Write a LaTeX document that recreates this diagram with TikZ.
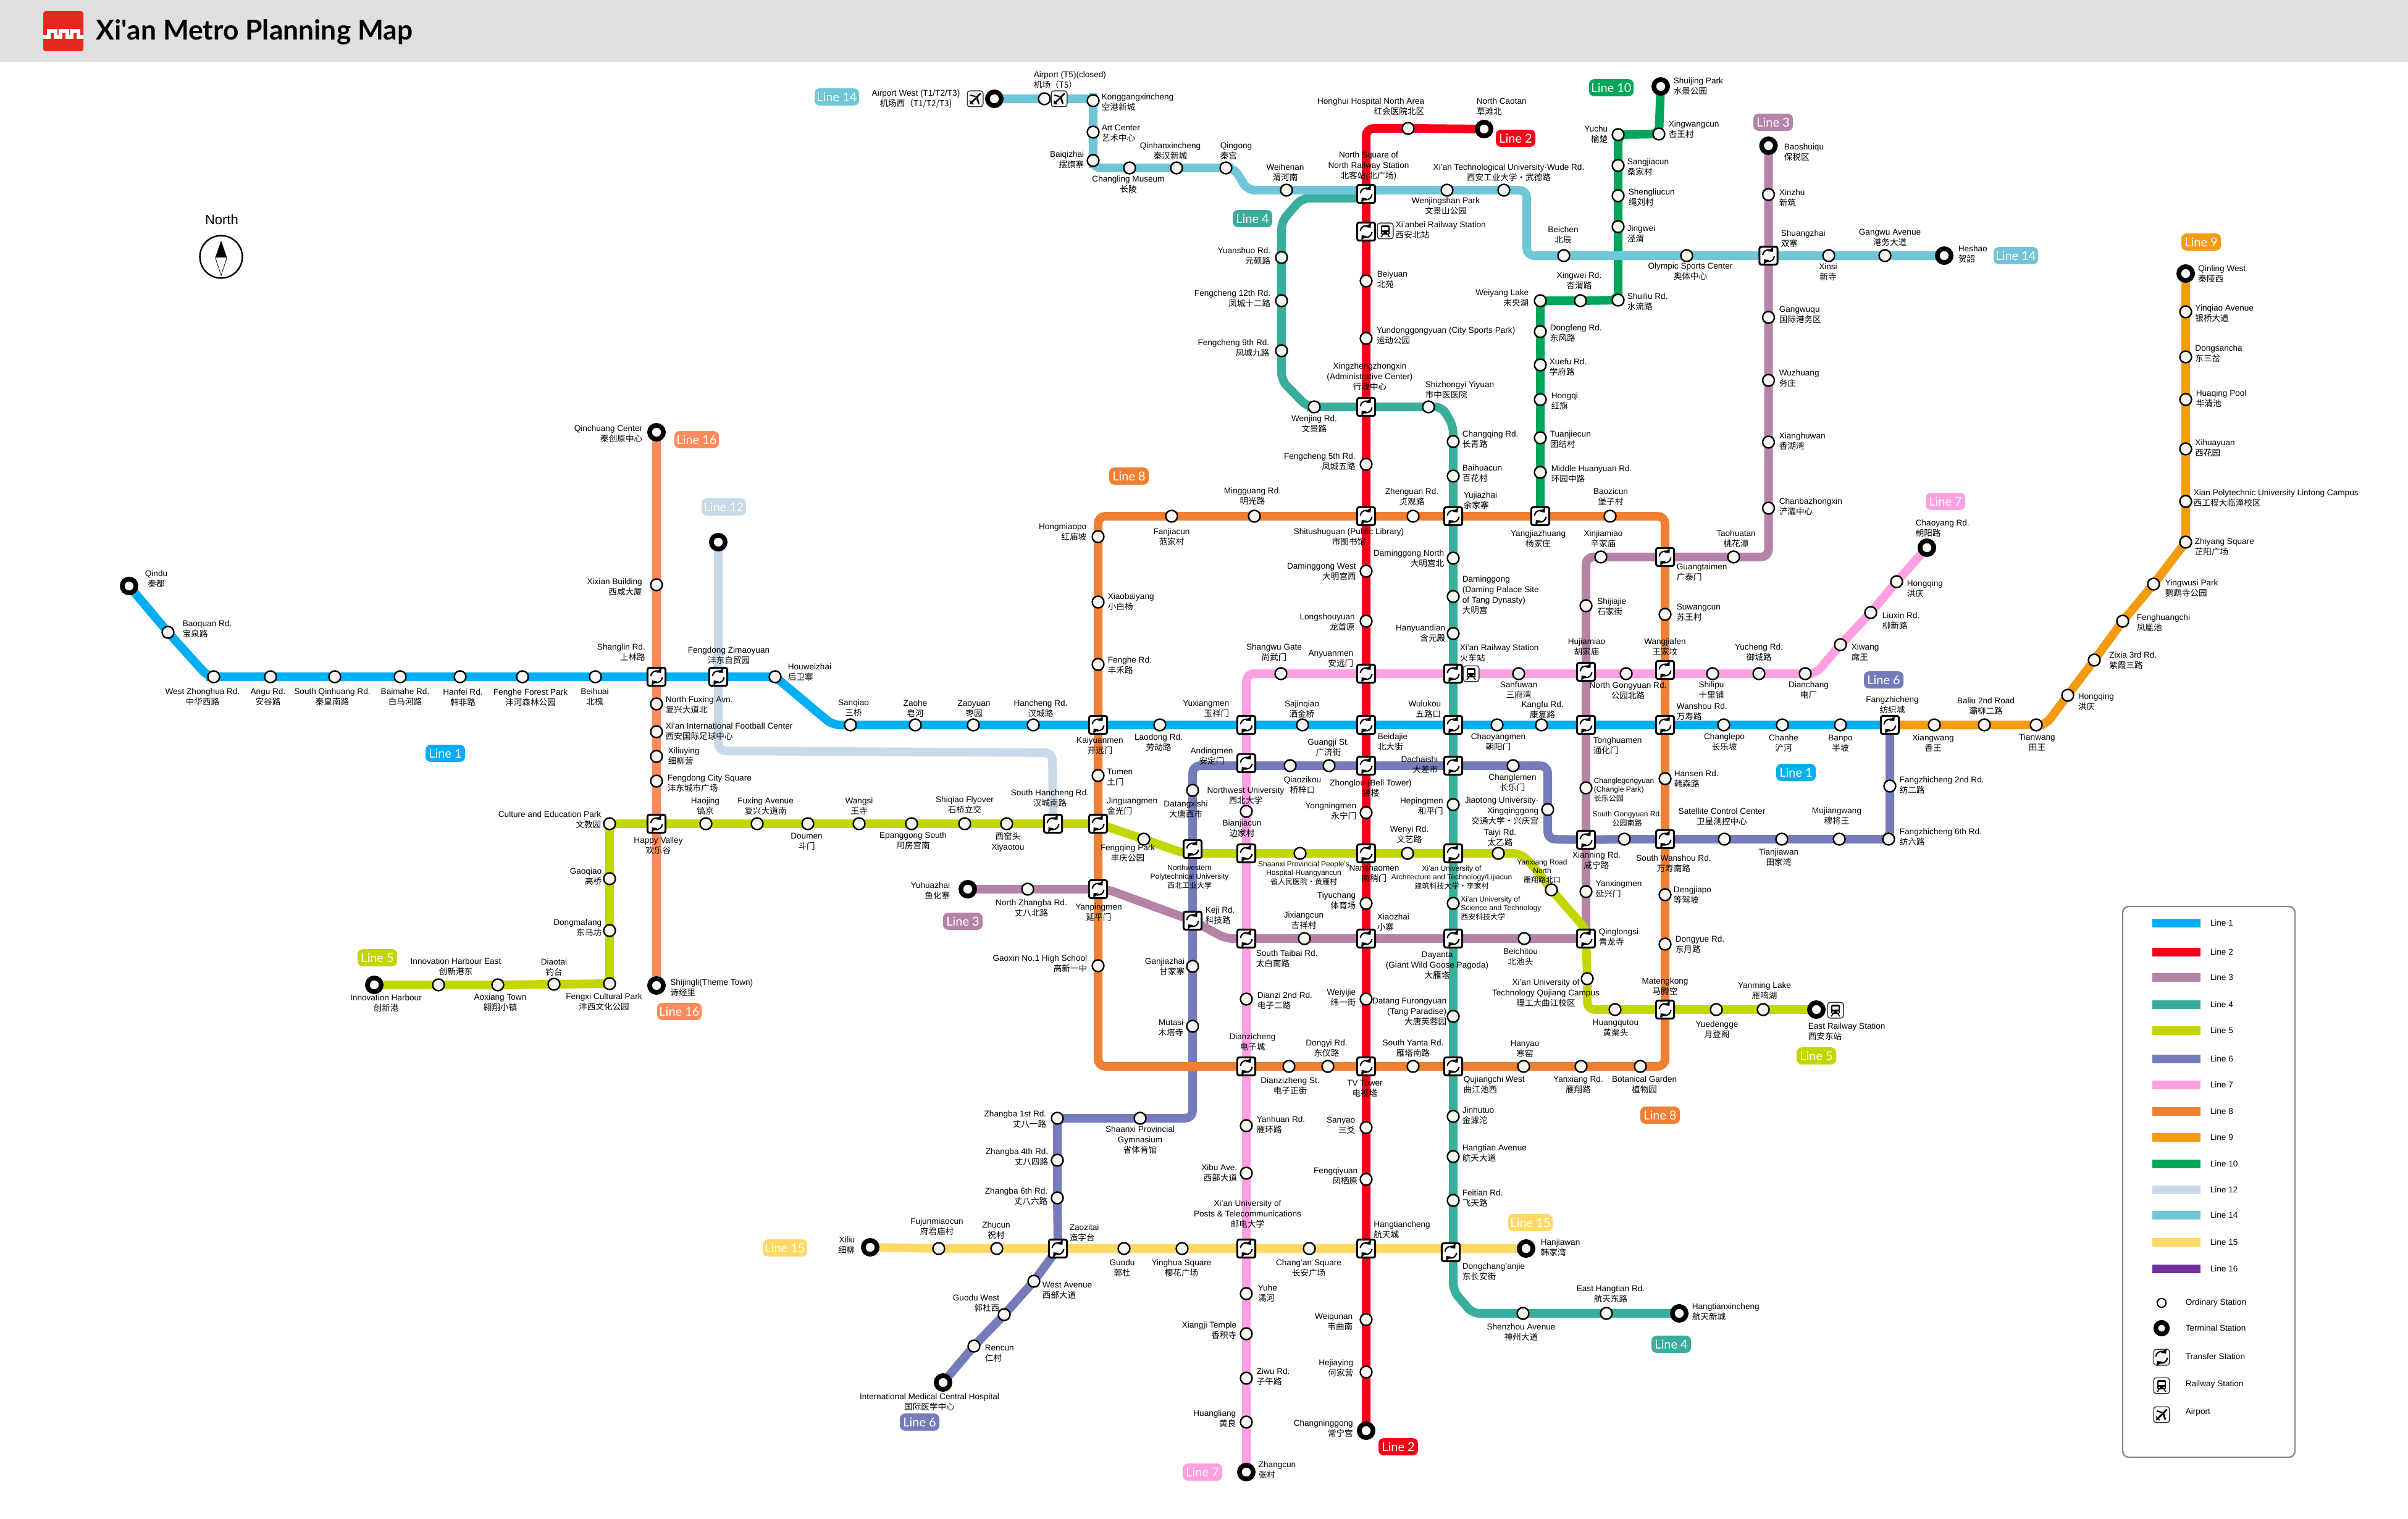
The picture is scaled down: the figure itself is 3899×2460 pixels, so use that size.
\documentclass[tikz,border=0pt]{standalone}
\usepackage{fontspec}
\setmainfont{Liberation Sans}
\newfontfamily\cjk{Noto Sans CJK SC}
\newfontfamily\latof{Lato}
\usetikzlibrary{arrows.meta}
\pgfdeclarelayer{lines}
\pgfsetlayers{lines,main}
\definecolor{c1}{HTML}{00AEF3}
\definecolor{c2}{HTML}{F70019}
\definecolor{c3}{HTML}{B583A7}
\definecolor{c4}{HTML}{3AAE9C}
\definecolor{c5}{HTML}{C4D600}
\definecolor{c6}{HTML}{767CBB}
\definecolor{c7}{HTML}{FFA0E3}
\definecolor{c8}{HTML}{EF7F32}
\definecolor{c9}{HTML}{F49B12}
\definecolor{c10}{HTML}{00A65A}
\definecolor{c12}{HTML}{C9D9E8}
\definecolor{c14}{HTML}{6EC6D8}
\definecolor{c15}{HTML}{FFD966}
\definecolor{c16}{HTML}{FF8A5B}
\definecolor{c16b}{HTML}{7030A0}
\definecolor{hdr}{HTML}{DEDFDE}
\definecolor{stfill}{HTML}{F7F7F3}
\definecolor{lgframe}{HTML}{8A8A8A}
\definecolor{logored}{HTML}{E6291F}
\tikzset{
 x=0.25pt,y=-0.25pt,
 ml/.style={line width=3.5pt,rounded corners=3pt},
 stn/.style={circle,draw=black,fill=stfill,line width=0.6pt,minimum size=4.75pt,inner sep=0pt},
 trm/.style={circle,draw=black,fill=stfill,line width=1.9pt,minimum size=5.6pt,inner sep=0pt},
 xfr/.style={rectangle,draw=black,fill=white,line width=0.75pt,rounded corners=0.8pt,minimum size=7.3pt,inner sep=0pt},
 ico/.style={rectangle,draw=black!80,fill=stfill,line width=0.35pt,rounded corners=1pt,minimum size=6.4pt,inner sep=0pt},
 lbl/.style={inner sep=0pt,text=black,font=\fontsize{3.4}{4.25}\selectfont},
 sm/.style={font=\fontsize{3}{3.6}\selectfont},
 lw/.style={anchor=west,align=left},
 le/.style={anchor=east,align=right},
 lc/.style={anchor=center,align=center},
 pill/.style={rectangle,rounded corners=2pt,text=white,inner sep=0pt,minimum height=6.9pt,font=\latof\fontsize{5}{6}\selectfont},
 pa/.style={pill,minimum width=16pt},
 pb/.style={pill,minimum width=18pt},
 xficon/.pic={
  \draw[black,line width=0.55pt,-{Triangle[length=1.5pt,width=2.8pt]}] (185:9.5) arc[start angle=185,delta angle=135,radius=9.5];
  \draw[black,line width=0.55pt,-{Triangle[length=1.5pt,width=2.8pt]}] (5:9.5) arc[start angle=5,delta angle=135,radius=9.5];
 },
 trainicon/.pic={
  \fill[black,rounded corners=0.6pt] (-7,-9) rectangle (7,6);
  \fill[stfill] (-5,-6) rectangle (5,-1);
  \fill[stfill] (-4,3) circle[radius=1.5] (4,3) circle[radius=1.5];
  \draw[black,line width=0.4pt] (-4,6)--(-7,10) (4,6)--(7,10);
 },
 planeicon/.pic={
  \draw[black,line width=0.7pt,line cap=round] (-8,8)--(8,-8);
  \fill[black] (-1,-3)--(-9,-5)--(-7,-7)--(3,-4)--cycle;
  \fill[black] (2,1)--(5,9)--(7,7)--(4,-3)--cycle;
  \draw[black,line width=0.4pt] (-9,3)--(-3,9);
 },
}
\newcommand{\st}[8]{\node[stn] (#1) at (#2,#3) {};\node[lbl,#4] (#1L) at (#5,#6) {#7\\{\cjk #8}};}
\newcommand{\tm}[8]{\node[trm] (#1) at (#2,#3) {};\node[lbl,#4] (#1L) at (#5,#6) {#7\\{\cjk #8}};}
\newcommand{\xf}[8]{\node[xfr] (#1) at (#2,#3) {};\pic at (#1.center) {xficon};\node[lbl,#4] (#1L) at (#5,#6) {#7\\{\cjk #8}};}
\newcommand{\railic}[3]{\node[ico] (#1) at (#2,#3) {};\pic at (#1.center) {trainicon};}
\newcommand{\airic}[3]{\node[ico] (#1) at (#2,#3) {};\pic at (#1.center) {planeicon};}
\newcommand{\lgl}[4]{\fill[#2] (3485,#1-7) rectangle (3563,#1+7);\node[lbl,anchor=west] (#4) at (3578,#1) {#3};}
\begin{document}
\begin{tikzpicture}
\useasboundingbox (0,0) rectangle (3899,2460);
% header
\fill[hdr] (0,0) rectangle (3899,100);
\fill[logored,rounded corners=1pt] (70,18) rectangle (135,83);
\draw[white,line width=1.4pt] (70,60)--(79,60)--(79,50)--(90,50)--(90,60)--(98,60)--(98,50)--(109,50)--(109,60)--(116,60)--(116,50)--(127,50)--(127,60)--(135,60);
\node[anchor=west,inner sep=0pt,font=\latof\bfseries\fontsize{11.1}{13}\selectfont] (title) at (155,52) {Xi'an Metro Planning Map};
% compass
\node[anchor=center,inner sep=0pt,font=\fontsize{5.5}{6.5}\selectfont] (north) at (359,356) {North};
\node[circle,draw=black,fill=white,line width=0.6pt,minimum size=17.2pt,inner sep=0pt] (compass) at (358,416) {};
\fill[black] (358,390)--(367.5,417)--(348.5,417)--cycle;
\draw[black,line width=0.2pt] (367.5,417)--(358,446)--(348.5,417);
% Line 1
\tm{qindu}{209}{949}{lc}{253}{937.5}{Qindu}{秦都}
\st{baoq}{272}{1024}{lw}{295}{1019}{Baoquan Rd.}{宝泉路}
\st{wzh}{346}{1096}{lc}{328}{1129}{West Zhonghua Rd.}{中华西路}
\st{angu}{438}{1096}{lc}{434}{1129}{Angu Rd.}{安谷路}
\st{sqh}{542}{1096}{lc}{538}{1129}{South Qinhuang Rd.}{秦皇南路}
\st{bmh}{648}{1096}{lc}{656}{1129}{Baimahe Rd.}{白马河路}
\st{hf}{745}{1096}{lc}{749.5}{1130}{Hanfei Rd.}{韩非路}
\st{ffp}{846}{1096}{lc}{859}{1130}{Fenghe Forest Park}{沣河森林公园}
\st{bh}{964}{1096}{lc}{963}{1129}{Beihuai}{北槐}
\xf{shl}{1063}{1096}{le}{1045.6}{1057}{Shanglin Rd.}{上林路}
\xf{fzm}{1163}{1096}{lc}{1180}{1062}{Fengdong Zimaoyuan}{沣东自贸园}
\st{hwz}{1255}{1096}{lw}{1275}{1089}{Houweizhai}{后卫寨}
\st{sq}{1377}{1174}{lc}{1382}{1147}{Sanqiao}{三桥}
\st{zh}{1482}{1174}{lc}{1482}{1147.5}{Zaohe}{皂河}
\st{zy}{1576}{1174}{lc}{1577}{1147.5}{Zaoyuan}{枣园}
\st{hc}{1673}{1174}{lc}{1685}{1148}{Hancheng Rd.}{汉城路}
\xf{kym}{1778}{1174}{lc}{1781}{1208}{Kaiyuanmen}{开远门}
\st{ld}{1878}{1174}{lc}{1876}{1203}{Laodong Rd.}{劳动路}
\xf{yxm}{2018}{1174}{le}{1991}{1147.5}{Yuxiangmen}{玉祥门}
\st{sjq}{2109}{1174}{lc}{2108}{1148.5}{Sajinqiao}{洒金桥}
\xf{bdj}{2212}{1174}{lw}{2230}{1202}{Beidajie}{北大街}
\xf{wlk}{2353}{1174}{le}{2334}{1148.5}{Wulukou}{五路口}
\st{cym}{2424}{1174}{lc}{2426}{1202}{Chaoyangmen}{朝阳门}
\st{kf}{2496}{1174}{lc}{2497.6}{1149.5}{Kangfu Rd.}{康复路}
\xf{thm}{2568}{1174}{lw}{2579}{1207.5}{Tonghuamen}{通化门}
\xf{wsr}{2696}{1174}{lw}{2714}{1153}{Wanshou Rd.}{万寿路}
\st{clp}{2791}{1174}{lc}{2792}{1202}{Changlepo}{长乐坡}
\st{chh}{2886}{1174}{lc}{2888}{1204}{Chanhe}{浐河}
\st{bp}{2980}{1174}{lc}{2980}{1204}{Banpo}{半坡}
\xf{fzc}{3060}{1174}{lc}{3064}{1142}{Fangzhicheng}{纺织城}
% Line 2
\tm{caotan}{2403}{209}{lw}{2390}{172.5}{North Caotan}{草滩北}
\st{hhh}{2280}{208}{le}{2307}{172.5}{Honghui Hospital North Area}{红会医院北区}
\xf{nsq}{2212}{314}{lc}{2216}{268.6}{North Square of\\North Railway Station}{北客站(北广场)}
\xf{xab}{2212}{375}{lw}{2259}{373}{Xi'anbei Railway Station}{西安北站}
\railic{rxab}{2243}{374}
\st{bei}{2212}{455}{lw}{2229}{453}{Beiyuan}{北苑}
\st{ydg2}{2212}{548}{lw}{2228}{544}{Yundonggongyuan (City Sports Park)}{运动公园}
\xf{xzzx}{2212}{659}{lc}{2218}{610}{Xingzhengzhongxin\\(Administrative Center)}{行政中心}
\st{fc5}{2212}{752}{le}{2195.5}{748}{Fengcheng 5th Rd.}{凤城五路}
\xf{stsg}{2212}{836}{lc}{2184}{869.5}{Shitushuguan (Public Library)}{市图书馆}
\st{dmw}{2212}{925}{le}{2196.5}{926}{Daminggong West}{大明宫西}
\st{lsy}{2212}{1006}{le}{2194.6}{1008}{Longshouyuan}{龙首原}
\xf{ayn}{2212}{1091}{le}{2192}{1067}{Anyuanmen}{安远门}
\xf{zl}{2212}{1240}{lc}{2219.5}{1277}{Zhonglou (Bell Tower)}{钟楼}
\st{ynm}{2212}{1316}{le}{2197}{1314}{Yongningmen}{永宁门}
\xf{nsm}{2212}{1382}{lc}{2225}{1414.5}{Nanshaomen}{南稍门}
\st{tyc}{2212}{1463}{le}{2196}{1459}{Tiyuchang}{体育场}
\xf{xzh}{2212}{1520}{lw}{2229}{1494}{Xiaozhai}{小寨}
\st{wyj}{2212}{1618}{le}{2196}{1615.5}{Weiyijie}{纬一街}
\xf{tvt}{2212}{1727}{lc}{2210}{1762.5}{TV Tower}{电视塔}
\st{sy3}{2212}{1826}{le}{2195}{1823}{Sanyao}{三爻}
\st{fqy}{2212}{1910}{le}{2199}{1905}{Fengqiyuan}{凤栖原}
\xf{htc}{2212}{2022}{lw}{2223.5}{1992}{Hangtiancheng}{航天城}
\st{wqn}{2212}{2137}{le}{2191}{2141}{Weiqunan}{韦曲南}
\st{hjy}{2212}{2222}{le}{2192}{2216}{Hejiaying}{何家营}
\tm{cng}{2212}{2317}{le}{2191.6}{2314}{Changninggong}{常宁宫}
% Line 3
\tm{bsq}{2863.5}{236}{lw}{2888}{246.5}{Baoshuiqu}{保税区}
\st{xzhu}{2863.5}{315}{lw}{2880}{320.5}{Xinzhu}{新筑}
\xf{shz}{2863.5}{414}{lw}{2883}{386.5}{Shuangzhai}{双寨}
\st{gwq}{2863.5}{514}{lw}{2880}{510}{Gangwuqu}{国际港务区}
\st{wzg}{2863.5}{616}{lw}{2880}{613}{Wuzhuang}{务庄}
\st{xhw}{2863.5}{716}{lw}{2880}{715}{Xianghuwan}{香湖湾}
\st{cbz}{2863.5}{823}{lw}{2880}{821}{Chanbazhongxin}{浐灞中心}
\st{tht}{2807}{902}{lc}{2811}{873}{Taohuatan}{桃花潭}
\xf{gtm}{2696}{902}{lw}{2714}{926.5}{Guangtaimen}{广泰门}
\st{xjm}{2592}{902}{lc}{2596}{873}{Xinjiamiao}{辛家庙}
\st{sjj}{2568}{981}{lw}{2585.5}{982.5}{Shijiajie}{石家街}
\xf{hjm}{2568}{1088}{lc}{2569}{1048}{Hujiamiao}{胡家庙}
\st{clg}{2568}{1276}{lw,sm}{2580}{1279}{Changlegongyuan\\(Changle Park)}{长乐公园}
\xf{xnr}{2568}{1360}{lc}{2585}{1394}{Xianning Rd.}{咸宁路}
\st{yxg}{2568}{1444}{lw}{2583}{1440}{Yanxingmen}{延兴门}
\xf{qls}{2568}{1520}{lw}{2588}{1517.5}{Qinglongsi}{青龙寺}
\st{bct}{2468}{1520}{lc}{2462}{1550}{Beichitou}{北池头}
\xf{dyt}{2353}{1520}{lc}{2327}{1563}{Dayanta\\(Giant Wild Goose Pagoda)}{大雁塔}
\st{jxc}{2112}{1520}{lc}{2111}{1491}{Jixiangcun}{吉祥村}
\xf{stb}{2018}{1520}{lw}{2033}{1553}{South Taibai Rd.}{太白南路}
\xf{kj}{1931}{1491}{lw}{1951}{1483}{Keji Rd.}{科技路}
\xf{ypm}{1778}{1440}{lc}{1779}{1477.5}{Yanpingmen}{延平门}
\st{nzb}{1664}{1440}{lc}{1670}{1470.5}{North Zhangba Rd.}{丈八北路}
\tm{yhz}{1567}{1440}{le}{1539}{1442.5}{Yuhuazhai}{鱼化寨}
% Line 4
\st{ysh}{2075}{417}{le}{2058}{415}{Yuanshuo Rd.}{元硕路}
\st{fc12}{2075}{487}{le}{2058}{484}{Fengcheng 12th Rd.}{凤城十二路}
\st{fc9}{2075}{568}{le}{2056}{564}{Fengcheng 9th Rd.}{凤城九路}
\st{wjr}{2128}{659}{lc}{2128}{687}{Wenjing Rd.}{文景路}
\st{szy}{2313}{659}{lw}{2307}{631.5}{Shizhongyi Yiyuan}{市中医医院}
\st{cqr}{2353}{715}{lw}{2367}{711.5}{Changqing Rd.}{长青路}
\st{bhc}{2353}{771}{lw}{2367}{767}{Baihuacun}{百花村}
\xf{yjz}{2353}{836}{lw}{2369}{810.5}{Yujiazhai}{余家寨}
\st{dmn}{2353}{904}{le}{2339}{904.5}{Daminggong North}{大明宫北}
\st{dmg}{2353}{966}{lw}{2367}{964}{Daminggong\\(Daming Palace Site\\of Tang Dynasty)}{大明宫}
\st{hyd}{2353}{1026}{le}{2341}{1026}{Hanyuandian}{含元殿}
\xf{xar}{2353}{1091}{lw}{2363}{1058}{Xi'an Railway Station}{火车站}
\railic{rxar}{2382}{1091}
\xf{dcs}{2353}{1240}{le}{2329}{1239}{Dachaishi}{大差市}
\st{hpm}{2353}{1303}{le}{2337.5}{1306}{Hepingmen}{和平门}
\xf{xau}{2353}{1382}{lc,sm}{2350.5}{1421}{Xi'an University of\\Architecture and Technology/Lijiacun}{建筑科技大学·李家村}
\st{sat2}{2353}{1463}{lw,sm}{2364.5}{1471}{Xi'an University of\\Science and Technology}{西安科技大学}
\st{dtf}{2353}{1646}{le}{2343}{1638}{Datang Furongyuan\\(Tang Paradise)}{大唐芙蓉园}
\xf{qjw}{2353}{1727}{lw}{2369}{1757}{Qujiangchi West}{曲江池西}
\st{jht}{2353}{1808}{lw}{2367}{1806.5}{Jinhutuo}{金滹沱}
\st{hta}{2353}{1873}{lw}{2367}{1868}{Hangtian Avenue}{航天大道}
\st{ftr}{2353}{1944}{lw}{2367}{1940.6}{Feitian Rd.}{飞天路}
\xf{dca}{2349}{2028}{lw}{2367}{2059.5}{Dongchang'anjie}{东长安街}
\st{szh}{2466}{2127}{lc}{2463}{2158}{Shenzhou Avenue}{神州大道}
\st{eht}{2601}{2127}{lc}{2608}{2096}{East Hangtian Rd.}{航天东路}
\tm{htx}{2719}{2127}{lw}{2739}{2125}{Hangtianxincheng}{航天新城}
% Line 5
\tm{ih}{606}{1595}{lc}{625}{1625}{Innovation Harbour}{创新港}
\st{ihe}{710}{1595}{lc}{738}{1565.5}{Innovation Harbour East}{创新港东}
\st{axt}{806}{1595}{lc}{810}{1624}{Aoxiang Town}{翱翔小镇}
\st{dit}{897}{1594}{lc}{897}{1566.5}{Diaotai}{钓台}
\st{fxc}{987}{1593}{lc}{978}{1622.5}{Fengxi Cultural Park}{沣西文化公园}
\st{dmf}{987}{1507}{le}{975}{1503}{Dongmafang}{东马坊}
\st{gqo}{987}{1423}{le}{975}{1420}{Gaoqiao}{高桥}
\st{cep}{987}{1334}{le}{974}{1328}{Culture and Education Park}{文教园}
\xf{hvy}{1063}{1334}{lc}{1066}{1369.5}{Happy Valley}{欢乐谷}
\st{hji}{1143}{1334}{lc}{1142}{1306}{Haojing}{镐京}
\st{fxa}{1226}{1334}{lc}{1239.6}{1306}{Fuxing Avenue}{复兴大道南}
\st{dmn2}{1308}{1334}{lc}{1306}{1362.5}{Doumen}{斗门}
\st{wsi}{1391}{1334}{lc}{1391}{1306}{Wangsi}{王寺}
\st{epg}{1476}{1334}{lc}{1478.6}{1362}{Epanggong South}{阿房宫南}
\st{sqf}{1562}{1334}{lc}{1562}{1304}{Shiqiao Flyover}{石桥立交}
\st{xyt}{1630}{1334}{lc}{1632}{1364}{{\cjk 西窑头}}{\rmfamily Xiyaotou}
\xf{shr}{1705}{1334}{lc}{1700}{1293}{South Hancheng Rd.}{汉城南路}
\xf{jgm}{1778}{1334}{lw}{1791.6}{1306}{Jinguangmen}{金光门}
\st{fqp}{1852}{1359}{lc}{1826}{1381.5}{Fengqing Park}{丰庆公园}
\xf{nwp}{1931}{1375}{lc,sm}{1926}{1420}{Northwestern\\Polytechnical University}{西北工业大学}
\xf{shp}{2018}{1382}{lc}{2011}{1342}{Bianjiacun}{边家村}
\st{spp}{2105}{1382}{lc,sm}{2111}{1414}{Shaanxi Provincial People's\\Hospital·Huangyancun}{省人民医院·黄雁村}
\st{wyr}{2279}{1382}{lc}{2282}{1352}{Wenyi Rd.}{文艺路}
\st{tyr}{2426}{1382}{lc}{2429}{1357}{Taiyi Rd.}{太乙路}
\st{yxn}{2512}{1441}{lc,sm}{2497}{1411}{Yanxiang Road\\North}{雁翔路北口}
\st{xut}{2570}{1585}{lc}{2503}{1608}{Xi'an University of\\Technology Qujiang Campus}{理工大曲江校区}
\st{hqt}{2615}{1635}{lc}{2616}{1665}{Huangqutou}{黄渠头}
\xf{mtk}{2696}{1635}{lc}{2696}{1597.5}{Matengkong}{马腾空}
\st{ydg}{2779}{1635}{lc}{2780}{1667.5}{Yuedengge}{月登阁}
\st{yml}{2855}{1635}{lc}{2857}{1605}{Yanming Lake}{雁鸣湖}
\tm{erl}{2941}{1635}{lw}{2927}{1670.5}{East Railway Station}{西安东站}
\railic{rerl}{2972}{1636}
% Line 6
\st{fz2}{3060}{1273}{lw}{3075}{1272}{Fangzhicheng 2nd Rd.}{纺二路}
\st{fz6}{3058}{1359}{lw}{3075}{1355.5}{Fangzhicheng 6th Rd.}{纺六路}
\st{mjw}{2978}{1359}{lc}{2974}{1322}{Mujiangwang}{穆将王}
\st{tjw}{2885}{1359}{lc}{2880}{1388.5}{Tianjiawan}{田家湾}
\st{scc}{2792}{1359}{lc}{2788}{1323}{Satellite Control Center}{卫星测控中心}
\xf{swd}{2696}{1359}{lc}{2710}{1398.5}{South Wanshou Rd.}{万寿南路}
\st{sgy}{2630}{1359}{lc,sm}{2634.6}{1326}{South Gongyuan Rd.}{公园南路}
\st{jtu}{2506}{1311}{le}{2492}{1313}{Jiaotong University·\\Xingqinggong}{交通大学·兴庆宫}
\st{clm}{2450}{1240}{lc}{2449}{1268}{Changlemen}{长乐门}
\st{gji}{2152}{1240}{lc}{2151}{1211}{Guangji St.}{广济街}
\st{qzk}{2089}{1240}{lc}{2109}{1272}{Qiaozikou}{桥梓口}
\xf{adm}{2018}{1236}{lc}{1962}{1224.5}{Andingmen}{安定门}
\st{dtx}{1931}{1280}{lc}{1920}{1311}{Datangxishi}{大唐西市}
\st{gjz}{1931}{1565}{le}{1919}{1565.5}{Ganjiazhai}{甘家寨}
\st{mts}{1931}{1662}{le}{1917}{1665}{Mutasi}{木塔寺}
\st{spg}{1846}{1811}{lc}{1846}{1846}{Shaanxi Provincial\\Gymnasium}{省体育馆}
\st{zb1}{1712}{1811}{le}{1695}{1813}{Zhangba 1st Rd.}{丈八一路}
\st{zb4}{1712}{1879}{le}{1698}{1873.5}{Zhangba 4th Rd.}{丈八四路}
\st{zb6}{1712}{1940}{le}{1697}{1938}{Zhangba 6th Rd.}{丈八六路}
\xf{zao}{1713}{2022}{lw}{1731}{1997}{Zaozitai}{造字台}
\st{wav}{1674}{2075}{lw}{1687}{2089.5}{West Avenue}{西部大道}
\st{gdw}{1626}{2129}{le}{1619}{2111}{Guodu West}{郭杜西}
\st{rnc}{1577}{2180}{lw}{1594}{2192}{Rencun}{仁村}
\tm{imc}{1527}{2239}{lc}{1505}{2270.5}{International Medical Central Hospital}{国际医学中心}
% Line 7
\st{bjc}{2018}{1314}{lc}{2017}{1288.5}{Northwest University}{西北大学}
\st{dz2}{2018}{1618}{lw}{2035}{1620.5}{Dianzi 2nd Rd.}{电子二路}
\xf{dzc}{2018}{1727}{lc}{2028}{1688}{Dianzicheng}{电子城}
\st{yhr}{2018}{1823}{lw}{2034}{1822}{Yanhuan Rd.}{雁环路}
\st{xbu}{2018}{1900}{le}{2004}{1899.5}{Xibu Ave.}{西部大道}
\xf{pst}{2018}{2022}{lc}{2020}{1966}{Xi'an University of\\Posts \& Telecommunications}{邮电大学}
\st{yhe}{2018}{2095}{lw}{2036}{2094.5}{Yuhe}{潏河}
\st{xjt}{2018}{2160}{le}{2003}{2155}{Xiangji Temple}{香积寺}
\st{zwu}{2018}{2232}{lw}{2034}{2230}{Ziwu Rd.}{子午路}
\st{hlg}{2018}{2303}{le}{2002}{2298}{Huangliang}{黄良}
\tm{zcn}{2018}{2384}{lw}{2037}{2380.5}{Zhangcun}{张村}
\st{swg}{2074}{1091}{lc}{2063}{1057}{Shangwu Gate}{尚武门}
\st{sfw}{2459}{1091}{lc}{2459}{1117.5}{Sanfuwan}{三府湾}
\st{ngy}{2633}{1091}{lc}{2636}{1119}{North Gongyuan Rd.}{公园北路}
\xf{wjf}{2696}{1085}{lc}{2696}{1048}{Wangjiafen}{王家坟}
\st{slp}{2773}{1091}{lc}{2771}{1117.5}{Shilipu}{十里铺}
\st{ycr}{2848}{1091}{lc}{2848}{1057}{Yucheng Rd.}{御城路}
\st{dch}{2923}{1091}{lc}{2928.5}{1117.5}{Dianchang}{电厂}
\st{xwg}{2980}{1044}{lw}{2997}{1056.5}{Xiwang}{席王}
\st{lxr}{3029}{992}{lw}{3047}{1006}{Liuxin Rd.}{柳新路}
\st{hq7}{3071}{942}{lw}{3087}{954}{Hongqing}{洪庆}
\tm{cyr}{3120}{887}{lw}{3101}{855.5}{Chaoyang Rd.}{朝阳路}
% Line 8
\st{hmp}{1778}{869}{le}{1760}{862}{Hongmiaopo}{红庙坡}
\st{fjc}{1897}{836}{lc}{1897}{869.5}{Fanjiacun}{范家村}
\st{mgr}{2031}{836}{lc}{2028}{804}{Mingguang Rd.}{明光路}
\st{zgr}{2288}{836}{lc}{2286}{804.5}{Zhenguan Rd.}{贞观路}
\xf{yjh}{2494}{836}{lc}{2490.6}{873}{Yangjiazhuang}{杨家庄}
\st{bzc}{2607}{836}{lc}{2608}{805}{Baozicun}{堡子村}
\st{swc}{2696}{995}{lw}{2714}{992}{Suwangcun}{苏王村}
\st{hsr}{2696}{1261}{lw}{2710}{1261.5}{Hansen Rd.}{韩森路}
\st{djp}{2696}{1449}{lw}{2709}{1450}{Dengjiapo}{等驾坡}
\st{dyr}{2696}{1529}{lw}{2712}{1529.5}{Dongyue Rd.}{东月路}
\st{bgd}{2656}{1727}{lc}{2662.6}{1757}{Botanical Garden}{植物园}
\st{yxr}{2560}{1727}{lc}{2555.5}{1757}{Yanxiang Rd.}{雁翔路}
\st{hyo}{2467}{1727}{lc}{2469}{1699}{Hanyao}{寒窑}
\st{syt}{2288}{1727}{lc}{2288}{1698}{South Yanta Rd.}{雁塔南路}
\st{dyi}{2150}{1727}{lc}{2148}{1698}{Dongyi Rd.}{东仪路}
\st{dzz}{2087}{1727}{lc}{2089}{1759}{Dianzizheng St.}{电子正街}
\st{gxn}{1778}{1564}{le}{1761}{1561}{Gaoxin No.1 High School}{高新一中}
\st{tmn}{1778}{1256}{lw}{1791.6}{1258.5}{Tumen}{土门}
\st{fhr}{1778}{1076}{lw}{1793}{1078}{Fenghe Rd.}{丰禾路}
\st{xby}{1778}{975}{lw}{1793}{975}{Xiaobaiyang}{小白杨}
% Line 9
\st{xgw}{3132}{1174}{lc}{3130}{1203.5}{Xiangwang}{香王}
\st{bl2}{3213}{1174}{lc}{3215.5}{1144}{Baliu 2nd Road}{灞柳二路}
\st{twg}{3297}{1174}{lc}{3298.5}{1203}{Tianwang}{田王}
\st{hq9}{3348}{1126}{lw}{3364}{1137}{Hongqing}{洪庆}
\st{zx3}{3391}{1069}{lw}{3414.5}{1070}{Zixia 3rd Rd.}{紫霞三路}
\st{fhc}{3437}{1006}{lw}{3459}{1009}{Fenghuangchi}{凤凰池}
\st{yws}{3487}{946}{lw}{3505}{953}{Yingwusi Park}{鹦鹉寺公园}
\st{zys}{3539}{878}{lw}{3553}{886}{Zhiyang Square}{芷阳广场}
\st{xpu}{3539}{812}{lw}{3551}{807}{Xian Polytechnic University Lintong Campus}{西工程大临潼校区}
\st{xhy}{3539}{727}{lw}{3553.6}{726}{Xihuayuan}{西花园}
\st{hqp}{3539}{647}{lw}{3555}{645.6}{Huaqing Pool}{华清池}
\st{dsc}{3539}{578}{lw}{3553.6}{573}{Dongsancha}{东三岔}
\st{yqa}{3539}{505}{lw}{3553.6}{507.5}{Yinqiao Avenue}{银桥大道}
\tm{qlw}{3539}{443}{lw}{3558.6}{443.5}{Qinling West}{秦陵西}
% Line 10
\tm{sjp}{2689}{140}{lw}{2709}{140}{Shuijing Park}{水景公园}
\st{xwc}{2686}{217}{lw}{2701}{210}{Xingwangcun}{杏王村}
\st{ych}{2620}{218}{le}{2604}{218}{Yuchu}{榆楚}
\st{sjc}{2620}{268}{lw}{2634}{271}{Sangjiacun}{桑家村}
\st{slc}{2620}{317}{lw}{2636}{320}{Shengliucun}{绳刘村}
\st{jwi}{2620}{367}{lw}{2634}{378.5}{Jingwei}{泾渭}
\st{slr}{2620}{486}{lw}{2634}{489}{Shuiliu Rd.}{水流路}
\st{xwr}{2559}{487}{lc}{2557}{455}{Xingwei Rd.}{杏渭路}
\st{wyl}{2494}{487}{le}{2476}{483}{Weiyang Lake}{未央湖}
\st{dfr}{2494}{537}{lw}{2509}{540}{Dongfeng Rd.}{东风路}
\st{xfr}{2494}{591}{lw}{2508}{595}{Xuefu Rd.}{学府路}
\st{hqi}{2494}{647}{lw}{2511}{650}{Hongqi}{红旗}
\st{tjc}{2494}{709}{lw}{2509}{712}{Tuanjiecun}{团结村}
\st{mhy}{2494}{765}{lw}{2511}{768}{Middle Huanyuan Rd.}{环园中路}
% Line 12
\node[trm] (l12t) at (1163,878) {};
% Line 14
\tm{awt}{1610}{160}{lc}{1483}{160}{Airport West (T1/T2/T3)}{机场西（T1/T2/T3)}
\airic{aiwt}{1579}{160}
\st{at5}{1691}{160}{lw}{1673}{129.5}{Airport (T5)(closed)}{机场（T5）}
\airic{ait5}{1715}{160}
\st{kgx}{1770}{163}{lw}{1783}{165.5}{Konggangxincheng}{空港新城}
\st{art}{1770}{214}{lw}{1783}{216}{Art Center}{艺术中心}
\st{bqz}{1770}{260}{le}{1756}{259}{Baiqizhai}{摆旗寨}
\st{clm2}{1829}{272}{lc}{1827}{298.5}{Changling Museum}{长陵}
\st{qhx}{1905}{272}{lc}{1895}{245}{Qinhanxincheng}{秦汉新城}
\st{qgg}{1985}{272}{lw}{1975}{245}{Qingong}{秦宫}
\st{whn}{2083}{308}{lc}{2081}{279.5}{Weihenan}{渭河南}
\st{wjs}{2343}{308}{lc}{2341}{333.5}{Wenjingshan Park}{文景山公园}
\st{xtu}{2435}{308}{lc}{2443}{279.5}{Xi'an Technological University·Wude Rd.}{西安工业大学·武德路}
\st{bcn}{2532}{414}{lc}{2531}{380.5}{Beichen}{北辰}
\st{osc}{2731}{414}{lc}{2737}{440}{Olympic Sports Center}{奥体中心}
\st{xsi}{2961}{414}{lc}{2960}{441}{Xinsi}{新寺}
\st{gwa}{3052}{414}{lc}{3060}{384.5}{Gangwu Avenue}{港务大道}
\tm{hsh}{3148}{414}{lw}{3170}{411.5}{Heshao}{贺韶}
% Line 15
\tm{xlu}{1409}{2020}{le}{1385}{2017}{Xiliu}{细柳}
\st{fjm}{1520}{2022}{lc}{1517}{1987}{Fujunmiaocun}{府君庙村}
\st{zcu}{1614}{2022}{lc}{1613}{1992.5}{Zhucun}{祝村}
\st{gdu}{1820}{2022}{lc}{1817}{2053.5}{Guodu}{郭杜}
\st{yhs}{1914}{2022}{lc}{1913}{2053.5}{Yinghua Square}{樱花广场}
\st{cas}{2120}{2022}{lc}{2119}{2053.5}{Chang'an Square}{长安广场}
\tm{hjw}{2471}{2022}{lw}{2494}{2020.5}{Hanjiawan}{韩家湾}
% Line 16
\tm{qcc}{1063}{700}{le}{1041}{703}{Qinchuang Center}{秦创原中心}
\st{xxb}{1063}{947}{le}{1040.6}{951}{Xixian Building}{西咸大厦}
\st{nfx}{1063}{1140}{lw}{1077}{1142}{North Fuxing Avn.}{复兴大道北}
\st{ifc}{1063}{1185}{lw}{1077}{1184.5}{Xi'an International Football Center}{西安国际足球中心}
\st{xly}{1063}{1225}{lw}{1081}{1225}{Xiliuying}{细柳营}
\st{fcs}{1063}{1265}{lw}{1080}{1268.5}{Fengdong City Square}{沣东城市广场}
\tm{sjl}{1063}{1596}{lw}{1084.6}{1599.5}{Shijingli(Theme Town)}{诗经里}
% corner coordinates
\coordinate (a1) at (337,1096); \coordinate (a2) at (1348,1174);
\coordinate (b1) at (2212,208);
\coordinate (d1) at (2863.5,902); \coordinate (d2) at (2568,902); \coordinate (d3) at (1985,1520); \coordinate (d4) at (1792,1440);
\coordinate (e1) at (2108,321); \coordinate (e2) at (2075,359); \coordinate (e3) at (2075,616); \coordinate (e4) at (2117,659); \coordinate (e5) at (2335,659); \coordinate (e6) at (2353,690); \coordinate (e7) at (2353,2090); \coordinate (e8) at (2384,2127);
\coordinate (f1) at (1917,1382); \coordinate (f2) at (2462,1382); \coordinate (f3) at (2485,1405); \coordinate (f4) at (2568,1505); \coordinate (f5) at (2570,1635);
\coordinate (g1) at (3060,1359); \coordinate (g2) at (2506,1359); \coordinate (g3) at (2506,1240); \coordinate (g4) at (1931,1240); \coordinate (g5) at (1931,1811);
\coordinate (h1) at (2018,1091); \coordinate (h2) at (2940,1091);
\coordinate (i1) at (1778,836); \coordinate (i2) at (2696,836); \coordinate (i3) at (2696,1727); \coordinate (i4) at (1778,1727);
\coordinate (j1) at (3312,1174);
\coordinate (k1) at (1163,1216); \coordinate (k2) at (1704,1219);
\coordinate (m1) at (1770,160); \coordinate (m2) at (1770,272); \coordinate (m3) at (1998,272); \coordinate (m4) at (2020,308); \coordinate (m5) at (2472,308); \coordinate (m6) at (2472,414);
\begin{pgfonlayer}{lines}
\fill[white] (0,100) rectangle (3899,2460);
\draw[ml,draw=c12] (l12t.center) -- (fzm.center) -- (k1) -- (k2) -- (shr.center);
\draw[ml,draw=c16] (qcc.center) -- (xxb.center) -- (shl.center) -- (nfx.center) -- (ifc.center) -- (xly.center) -- (fcs.center) -- (hvy.center) -- (sjl.center);
\draw[ml,draw=c10] (sjp.center) -- (xwc.center) -- (ych.center) -- (sjc.center) -- (slc.center) -- (jwi.center) -- (slr.center) -- (xwr.center) -- (wyl.center) -- (dfr.center) -- (xfr.center) -- (hqi.center) -- (tjc.center) -- (mhy.center) -- (yjh.center);
\draw[ml,draw=c3] (bsq.center) -- (xzhu.center) -- (shz.center) -- (gwq.center) -- (wzg.center) -- (xhw.center) -- (cbz.center) -- (d1) -- (tht.center) -- (gtm.center) -- (xjm.center) -- (d2) -- (sjj.center) -- (hjm.center) -- (thm.center) -- (clg.center) -- (xnr.center) -- (yxg.center) -- (qls.center) -- (bct.center) -- (dyt.center) -- (xzh.center) -- (jxc.center) -- (stb.center) -- (d3) -- (kj.center) -- (d4) -- (ypm.center) -- (nzb.center) -- (yhz.center);
\draw[ml,draw=c6] (fzc.center) -- (fz2.center) -- (g1) -- (mjw.center) -- (tjw.center) -- (scc.center) -- (swd.center) -- (sgy.center) -- (xnr.center) -- (g2) -- (jtu.center) -- (g3) -- (clm.center) -- (dcs.center) -- (zl.center) -- (gji.center) -- (qzk.center) -- (g4) -- (dtx.center) -- (nwp.center) -- (kj.center) -- (gjz.center) -- (mts.center) -- (g5) -- (spg.center) -- (zb1.center) -- (zb4.center) -- (zb6.center) -- (zao.center) -- (wav.center) -- (gdw.center) -- (rnc.center) -- (imc.center);
\draw[ml,draw=c4] (nsq.center |- e1) -- (e1) -- (e2) -- (ysh.center) -- (fc12.center) -- (fc9.center) -- (e3) -- (e4) -- (wjr.center) -- (xzzx.center) -- (szy.center) -- (e5) -- (e6) -- (cqr.center) -- (bhc.center) -- (yjz.center) -- (dmn.center) -- (dmg.center) -- (hyd.center) -- (xar.center) -- (wlk.center) -- (dcs.center) -- (hpm.center) -- (xau.center) -- (sat2.center) -- (dyt.center) -- (dtf.center) -- (qjw.center) -- (jht.center) -- (hta.center) -- (ftr.center) -- (e7) -- (e8) -- (szh.center) -- (eht.center) -- (htx.center);
\draw[ml,draw=c2] (caotan.center) -- (hhh.center) -- (b1) -- (nsq.center) -- (xab.center) -- (bei.center) -- (ydg2.center) -- (xzzx.center) -- (fc5.center) -- (stsg.center) -- (dmw.center) -- (lsy.center) -- (ayn.center) -- (bdj.center) -- (zl.center) -- (ynm.center) -- (nsm.center) -- (tyc.center) -- (xzh.center) -- (wyj.center) -- (tvt.center) -- (sy3.center) -- (fqy.center) -- (htc.center) -- (wqn.center) -- (hjy.center) -- (cng.center);
\draw[ml,draw=c8] (hmp.center) -- (i1) -- (fjc.center) -- (mgr.center) -- (stsg.center) -- (zgr.center) -- (yjz.center) -- (yjh.center) -- (bzc.center) -- (i2) -- (gtm.center) -- (swc.center) -- (wjf.center) -- (wsr.center) -- (hsr.center) -- (swd.center) -- (djp.center) -- (dyr.center) -- (mtk.center) -- (i3) -- (bgd.center) -- (yxr.center) -- (hyo.center) -- (qjw.center) -- (syt.center) -- (tvt.center) -- (dyi.center) -- (dzz.center) -- (dzc.center) -- (i4) -- (gxn.center) -- (ypm.center) -- (jgm.center) -- (tmn.center) -- (kym.center) -- (fhr.center) -- (xby.center) -- (hmp.center);
\draw[ml,draw=c1] (qindu.center) -- (baoq.center) -- (a1) -- (wzh.center) -- (angu.center) -- (sqh.center) -- (bmh.center) -- (hf.center) -- (ffp.center) -- (bh.center) -- (shl.center) -- (fzm.center) -- (hwz.center) -- (a2) -- (sq.center) -- (zh.center) -- (zy.center) -- (hc.center) -- (kym.center) -- (ld.center) -- (yxm.center) -- (sjq.center) -- (bdj.center) -- (wlk.center) -- (cym.center) -- (kf.center) -- (thm.center) -- (wsr.center) -- (clp.center) -- (chh.center) -- (bp.center) -- (fzc.center);
\draw[ml,draw=c7] (zcn.center) -- (hlg.center) -- (zwu.center) -- (xjt.center) -- (yhe.center) -- (pst.center) -- (xbu.center) -- (yhr.center) -- (dzc.center) -- (dz2.center) -- (stb.center) -- (shp.center) -- (bjc.center) -- (adm.center) -- (yxm.center) -- (h1) -- (swg.center) -- (ayn.center) -- (xar.center) -- (sfw.center) -- (hjm.center |- sfw.center) -- (ngy.center) -- (wjf.center |- sfw.center) -- (slp.center) -- (ycr.center) -- (dch.center) -- (h2) -- (xwg.center) -- (lxr.center) -- (hq7.center) -- (cyr.center);
\draw[ml,draw=c5] (ih.center) -- (ihe.center) -- (axt.center) -- (dit.center) -- (fxc.center) -- (dmf.center) -- (gqo.center) -- (cep.center) -- (hvy.center) -- (hji.center) -- (fxa.center) -- (dmn2.center) -- (wsi.center) -- (epg.center) -- (sqf.center) -- (xyt.center) -- (shr.center) -- (jgm.center) -- (fqp.center) -- (f1) -- (shp.center) -- (spp.center) -- (nsm.center) -- (wyr.center) -- (xau.center) -- (tyr.center) -- (f2) -- (f3) -- (yxn.center) -- (f4) -- (qls.center) -- (xut.center) -- (f5) -- (hqt.center) -- (mtk.center) -- (ydg.center) -- (yml.center) -- (erl.center);
\draw[ml,draw=c14] (awt.center) -- (at5.center) -- (m1) -- (kgx.center) -- (art.center) -- (bqz.center) -- (m2) -- (clm2.center) -- (qhx.center) -- (qgg.center) -- (m3) -- (m4) -- (whn.center) -- (nsq.center |- whn.center) -- (wjs.center) -- (xtu.center) -- (m5) -- (m6) -- (bcn.center) -- (osc.center) -- (shz.center) -- (xsi.center) -- (gwa.center) -- (hsh.center);
\draw[ml,draw=c15] (xlu.center) -- (fjm.center) -- (zcu.center) -- (zao.center) -- (gdu.center) -- (yhs.center) -- (pst.center) -- (cas.center) -- (htc.center) -- (dca.center |- hjw.center) -- (hjw.center);
\draw[ml,draw=c9] (fzc.center) -- (xgw.center) -- (bl2.center) -- (twg.center) -- (j1) -- (hq9.center) -- (zx3.center) -- (fhc.center) -- (yws.center) -- (zys.center) -- (xpu.center) -- (xhy.center) -- (hqp.center) -- (dsc.center) -- (yqa.center) -- (qlw.center);
\end{pgfonlayer}
% line pills
\node[pb,fill=c16] (p16a) at (1128,712) {Line 16};
\node[pb,fill=c12] (p12) at (1172,821) {Line 12};
\node[pa,fill=c8] (p8a) at (1828,771) {Line 8};
\node[pa,fill=c4] (p4a) at (2028,354) {Line 4};
\node[pa,fill=c2] (p2a) at (2454,224) {Line 2};
\node[pb,fill=c14] (p14a) at (1355,157) {Line 14};
\node[pb,fill=c10] (p10) at (2609,142) {Line 10};
\node[pa,fill=c3] (p3a) at (2871,198) {Line 3};
\node[pb,fill=c14] (p14b) at (3264,414) {Line 14};
\node[pa,fill=c9] (p9) at (3564,392) {Line 9};
\node[pa,fill=c7] (p7a) at (3150,812) {Line 7};
\node[pa,fill=c6] (p6a) at (3050,1101) {Line 6};
\node[pa,fill=c1] (p1a) at (2908,1251) {Line 1};
\node[pa,fill=c1] (p1b) at (721,1220) {Line 1};
\node[pa,fill=c5] (p5a) at (611,1551) {Line 5};
\node[pb,fill=c16] (p16b) at (1100,1638) {Line 16};
\node[pa,fill=c3] (p3b) at (1559,1492) {Line 3};
\node[pa,fill=c5] (p5b) at (2941,1710) {Line 5};
\node[pa,fill=c8] (p8b) at (2688,1806) {Line 8};
\node[pb,fill=c15] (p15a) at (1271,2021) {Line 15};
\node[pa,fill=c6] (p6b) at (1489,2303) {Line 6};
\node[pa,fill=c7] (p7b) at (1947,2384) {Line 7};
\node[pa,fill=c2] (p2b) at (2264,2343) {Line 2};
\node[pb,fill=c15] (p15b) at (2478,1980) {Line 15};
\node[pa,fill=c4] (p4b) at (2706,2177) {Line 4};
% legend
\draw[lgframe,line width=0.6pt,rounded corners=2.5pt] (3437,1468) rectangle (3716,2360);
\lgl{1495}{c1}{Line 1}{lg1}
\lgl{1542}{c2}{Line 2}{lg2}
\lgl{1583}{c3}{Line 3}{lg3}
\lgl{1627}{c4}{Line 4}{lg4}
\lgl{1669}{c5}{Line 5}{lg5}
\lgl{1715}{c6}{Line 6}{lg6}
\lgl{1757}{c7}{Line 7}{lg7}
\lgl{1800}{c8}{Line 8}{lg8}
\lgl{1842}{c9}{Line 9}{lg9}
\lgl{1885}{c10}{Line 10}{lg10}
\lgl{1927}{c12}{Line 12}{lg12}
\lgl{1968}{c14}{Line 14}{lg14}
\lgl{2012}{c15}{Line 15}{lg15}
\lgl{2055}{c16b}{Line 16}{lg16}
\node[stn,minimum size=3.6pt,fill=white,line width=0.5pt] (lgs1) at (3500,2110) {};
\node[lbl,anchor=west] (lgt1) at (3538,2110) {Ordinary Station};
\node[trm,minimum size=4.7pt,line width=1.9pt] (lgs2) at (3500,2151) {};
\node[lbl,anchor=west] (lgt2) at (3538,2151) {Terminal Station};
\node[ico] (lgs3) at (3500,2198) {};
\pic at (lgs3.center) {xficon};
\node[lbl,anchor=west] (lgt3) at (3538,2197) {Transfer Station};
\railic{lgs4}{3500}{2244}
\node[lbl,anchor=west] (lgt4) at (3538,2242) {Railway Station};
\airic{lgs5}{3500}{2291}
\node[lbl,anchor=west] (lgt5) at (3538,2287) {Airport};
\end{tikzpicture}
\end{document}
